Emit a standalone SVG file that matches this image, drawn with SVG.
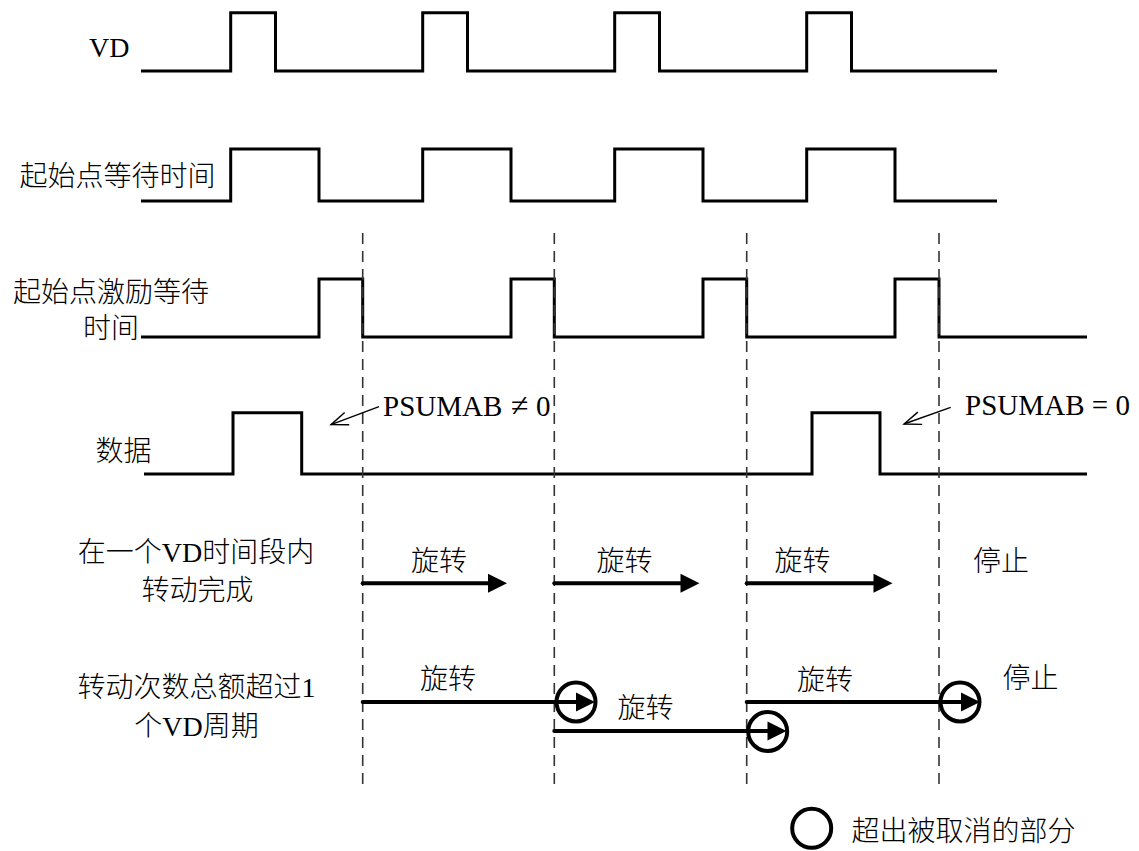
<svg xmlns="http://www.w3.org/2000/svg" width="1139" height="851" viewBox="0 0 1139 851">
<style>
text{font-family:"Liberation Serif","Noto Sans CJK SC",serif;fill:#000;font-size:28px;font-weight:300}
.m{text-anchor:middle}
.lat{font-size:29px}
.wave{fill:none;stroke:#000;stroke-width:3;stroke-linejoin:miter}
.dash{stroke:#333;stroke-width:1.6;stroke-dasharray:11 7}
.thin{stroke:#000;stroke-width:1.4;fill:none}
.thick{stroke:#000;stroke-width:4;stroke-linecap:round}
.ring{fill:none;stroke:#000;stroke-width:4}
</style>
<defs>
<marker id="open" markerUnits="userSpaceOnUse" viewBox="-18 -8 20 16" refX="0" refY="0" markerWidth="20" markerHeight="16" orient="auto" overflow="visible">
<path d="M-17,-6.5 L0,0 L-17,6.5" fill="none" stroke="#000" stroke-width="1.4"/>
</marker>
<marker id="solid" markerUnits="userSpaceOnUse" viewBox="0 -10 20 20" refX="0" refY="0" markerWidth="20" markerHeight="20" orient="auto" overflow="visible">
<path d="M0,-9.5 L19,0 L0,9.5 z" fill="#000"/>
</marker>
</defs>

<g id="labels">
<text x="89" y="57">VD</text>
<text class="m" x="117.5" y="186">起始点等待时间</text>
<text class="m" x="111" y="301.5">起始点激励等待</text>
<text class="m" x="111" y="338">时间</text>
<text class="m" x="123.5" y="461">数据</text>
<text class="m" x="196" y="562">在一个VD时间段内</text>
<text class="m" x="197.5" y="599.5">转动完成</text>
<text class="m" x="196.5" y="697">转动次数总额超过1</text>
<text class="m" x="196.5" y="735.5">个VD周期</text>
</g>

<g id="waveforms">
<path id="vd" class="wave" d="M141,71 H230.7 V12.7 H275.5 V71 H422.7 V12.7 H467.5 V71 H614.7 V12.7 H659.5 V71 H806.7 V12.7 H851.5 V71 H997"/>
<path id="start-wait" class="wave" d="M141,201 H230.7 V149 H319 V201 H422.7 V149 H511 V201 H614.7 V149 H703 V201 H806.7 V149 H895 V201 H997"/>
<path id="excite-wait" class="wave" d="M141,337 H319 V279 H362.7 V337 H511 V279 H554.3 V337 H703 V279 H746.7 V337 H895 V279 H939 V337 H1087"/>
<path id="data" class="wave" d="M144,474 H233 V412.7 H301.7 V474 H812 V412.7 H880 V474 H1087"/>
</g>

<g id="dashed-lines">
<line class="dash" x1="362.7" y1="233" x2="362.7" y2="787"/>
<line class="dash" x1="554.3" y1="233" x2="554.3" y2="787"/>
<line class="dash" x1="746.7" y1="233" x2="746.7" y2="787"/>
<line class="dash" x1="939" y1="233" x2="939" y2="787"/>
</g>

<g id="annotations">
<line class="thin" x1="379" y1="406.7" x2="331" y2="424.6" marker-end="url(#open)"/>
<text class="lat" x="383" y="416">PSUMAB <tspan x="511" font-size="32">≠</tspan><tspan x="536">0</tspan></text>
<line class="thin" x1="950.7" y1="407.3" x2="904" y2="424" marker-end="url(#open)"/>
<text class="lat" x="965" y="415" textLength="165" lengthAdjust="spacing">PSUMAB = 0</text>
</g>

<g id="row-within-vd">
<line class="thick" x1="362.7" y1="583.3" x2="488" y2="583.3" marker-end="url(#solid)"/>
<line class="thick" x1="554.3" y1="583.3" x2="680.5" y2="583.3" marker-end="url(#solid)"/>
<line class="thick" x1="746.7" y1="583.3" x2="873.5" y2="583.3" marker-end="url(#solid)"/>
<text class="m" x="439" y="571">旋转</text>
<text class="m" x="624.5" y="571">旋转</text>
<text class="m" x="802.5" y="571">旋转</text>
<text class="m" x="1001" y="571">停止</text>
</g>

<g id="row-exceed">
<line class="thick" x1="362.7" y1="702" x2="576" y2="702" marker-end="url(#solid)"/>
<circle class="ring" cx="576" cy="702" r="19.5"/>
<line class="thick" x1="554.3" y1="731" x2="767.5" y2="731" marker-end="url(#solid)"/>
<circle class="ring" cx="767.7" cy="731.5" r="19.5"/>
<line class="thick" x1="746.7" y1="702" x2="961" y2="702" marker-end="url(#solid)"/>
<circle class="ring" cx="960" cy="702" r="19.5"/>
<text class="m" x="448" y="689">旋转</text>
<text class="m" x="645.5" y="718">旋转</text>
<text class="m" x="825" y="689.5">旋转</text>
<text class="m" x="1030.5" y="688">停止</text>
</g>

<g id="legend">
<circle class="ring" cx="811.7" cy="828.3" r="19.5"/>
<text class="m" x="963.5" y="840.5">超出被取消的部分</text>
</g>
</svg>
